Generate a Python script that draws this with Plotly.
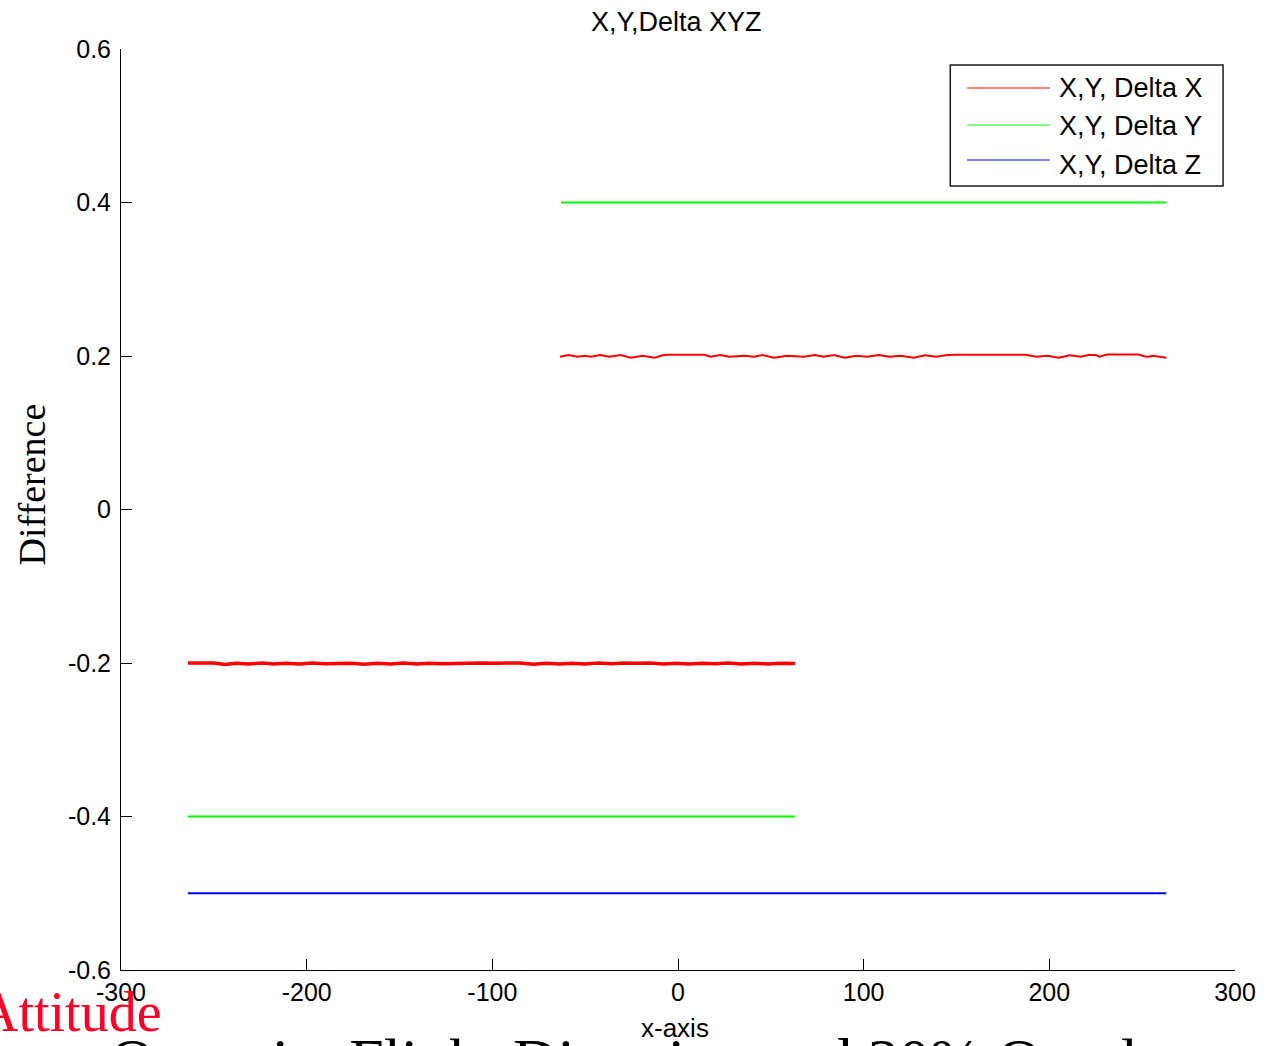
import plotly.graph_objects as go

# ---- data -------------------------------------------------------------
# Delta X, strip flown eastward (upper) and westward (lower)
dx_upper_x = [-63.5, -59, -54, -50, -47, -42, -37, -31, -25.5, -19, -12.6, -8.3, -5.6,
              14.2, 17.4, 22.8, 27.6, 35.7, 41, 45.3, 51.7, 58.7, 67.8, 73.7, 78.6, 83.9,
              89.8, 96, 102, 108, 114, 120, 127, 133, 139, 145, 150, 187, 193, 199, 205,
              211, 217, 221, 225, 227, 231, 248, 251, 253, 256, 259, 261, 263]
dx_upper_y = [0.1991, 0.2013, 0.1991, 0.2004, 0.1991, 0.2013, 0.1991, 0.2013, 0.1978,
              0.2004, 0.1978, 0.2009, 0.2017, 0.2017, 0.1991, 0.2013, 0.1991, 0.2004,
              0.1991, 0.2013, 0.1978, 0.2004, 0.1991, 0.2013, 0.1991, 0.2013, 0.1978,
              0.2004, 0.1991, 0.2013, 0.1991, 0.2004, 0.1978, 0.2009, 0.1991, 0.2013,
              0.2017, 0.2017, 0.1991, 0.2004, 0.1978, 0.2009, 0.1991, 0.2013, 0.2013,
              0.1991, 0.2020, 0.2020, 0.1998, 0.1991, 0.2004, 0.1991, 0.1991, 0.1978]

dx_lower_x = [-264, -258, -250, -244, -238, -231, -224, -218, -211, -204, -197, -190,
              -183, -176, -169, -162, -155, -148, -141, -134, -127, -120, -113, -106,
              -99, -92, -85, -78, -71, -64, -57, -50, -43, -36, -29, -22, -15, -8, -1,
              6, 13, 20, 27, 34, 41, 48, 55, 63]
dx_lower_y = [-0.2000, -0.2002, -0.2000, -0.2018, -0.2003, -0.2012, -0.2001, -0.2014,
              -0.2002, -0.2013, -0.2000, -0.2011, -0.2002, -0.2004, -0.2015, -0.2003,
              -0.2012, -0.2001, -0.2013, -0.2003, -0.2010, -0.2003, -0.2001, -0.2000,
              -0.2002, -0.2004, -0.2001, -0.2016, -0.2004, -0.2012, -0.2002, -0.2013,
              -0.2001, -0.2010, -0.2000, -0.2003, -0.2001, -0.2012, -0.2002, -0.2014,
              -0.2003, -0.2011, -0.2001, -0.2013, -0.2002, -0.2012, -0.2004, -0.2008]

# Delta Y, both strips
dy_upper_x = [-63, 263]
dy_upper_y = [0.4, 0.4]
dy_lower_x = [-264, 63]
dy_lower_y = [-0.4, -0.4]

# Delta Z, across the full extent
dz_x = [-264, 263]
dz_y = [-0.5, -0.5]

legend_labels = ["X,Y, Delta X", "X,Y, Delta Y", "X,Y, Delta Z"]
line_colors = ["#ff0000", "#00ff00", "#0000ff"]

x_ticks = [-300, -200, -100, 0, 100, 200, 300]
x_tick_text = ["-300", "-200", "-100", "0", "100", "200", "300"]
y_ticks = [-0.6, -0.4, -0.2, 0, 0.2, 0.4, 0.6]
y_tick_text = ["-0.6", "-0.4", "-0.2", "0", "0.2", "0.4", "0.6"]

# ---- layout helpers ---------------------------------------------------
W, H = 1268, 1046
L, R, T, B = 121, 1240, 49, 970   # plot-area edges in page pixels


def px(x):
    return (x - L) / (R - L)


def py(y):
    return (B - y) / (B - T)


SANS = "Liberation Sans, Arial, sans-serif"
SERIF = "Liberation Serif, Times New Roman, serif"

fig = go.Figure()

fig.add_trace(go.Scatter(x=dx_upper_x, y=dx_upper_y, mode="lines",
                         line=dict(color=line_colors[0], width=2), showlegend=False))
fig.add_trace(go.Scatter(x=dx_lower_x, y=dx_lower_y, mode="lines",
                         line=dict(color=line_colors[0], width=3.5), showlegend=False))
fig.add_trace(go.Scatter(x=dy_upper_x, y=dy_upper_y, mode="lines",
                         line=dict(color=line_colors[1], width=2), showlegend=False))
fig.add_trace(go.Scatter(x=dy_lower_x, y=dy_lower_y, mode="lines",
                         line=dict(color=line_colors[1], width=2), showlegend=False))
fig.add_trace(go.Scatter(x=dz_x, y=dz_y, mode="lines",
                         line=dict(color=line_colors[2], width=2), showlegend=False))

# legend box drawn by hand so the sample lines can be long
shapes = [dict(type="rect", xref="paper", yref="paper",
               x0=px(954), x1=px(1228), y0=py(186), y1=py(65),
               line=dict(color="#1a1a1a", width=1.5), fillcolor="white", layer="above")]
annotations = []
legend_line_y = [88, 125, 160]
legend_text_y = [88, 126, 165]
for lab, col, ly, ty in zip(legend_labels, line_colors, legend_line_y, legend_text_y):
    shapes.append(dict(type="line", xref="paper", yref="paper",
                       x0=px(971), x1=px(1054), y0=py(ly), y1=py(ly),
                       line=dict(color=col, width=1), layer="above"))
    annotations.append(dict(text=lab, xref="paper", yref="paper", x=px(1061), y=py(ty),
                            xanchor="left", yanchor="middle", showarrow=False,
                            font=dict(family=SANS, size=27, color="black")))

# titles
annotations += [
    dict(text="X,Y,Delta XYZ", xref="paper", yref="paper", x=px(679), y=py(22),
         xanchor="center", yanchor="middle", showarrow=False,
         font=dict(family=SANS, size=27, color="black")),
    dict(text="x-axis", xref="paper", yref="paper", x=px(677), y=py(1028),
         xanchor="center", yanchor="middle", showarrow=False,
         font=dict(family=SANS, size=26, color="black")),
    dict(text="Difference", xref="paper", yref="paper", x=px(32), y=py(484),
         xanchor="center", yanchor="middle", textangle=-90, showarrow=False,
         font=dict(family=SERIF, size=38, color="black")),
    dict(text="Attitude", xref="paper", yref="paper", x=px(-25), y=py(1012),
         xanchor="left", yanchor="middle", showarrow=False,
         font=dict(family=SERIF, size=56, color="#ff0028")),
    dict(text="Opposite Flight Direction and 30% Overlap", xref="paper", yref="paper",
         x=px(108), y=py(1060), xanchor="left", yanchor="middle", showarrow=False,
         font=dict(family=SERIF, size=62, color="black")),
]

fig.update_layout(
    width=W, height=H,
    margin=dict(l=L, r=W - R, t=T, b=H - B, pad=0),
    paper_bgcolor="white", plot_bgcolor="white",
    showlegend=False,
    shapes=shapes,
    annotations=annotations,
    font=dict(family=SANS, size=25, color="black"),
)

fig.update_xaxes(range=[-300, 300], tickvals=x_ticks, ticktext=x_tick_text,
                 ticks="inside", ticklen=11, tickcolor="black", tickwidth=1,
                 showline=True, linecolor="black", linewidth=1, showgrid=False,
                 zeroline=False, tickfont=dict(family=SANS, size=25, color="black"))
fig.update_yaxes(range=[-0.6, 0.6], tickvals=y_ticks, ticktext=y_tick_text,
                 ticks="inside", ticklen=11, tickcolor="black", tickwidth=1,
                 showline=True, linecolor="black", linewidth=1, showgrid=False,
                 zeroline=False, ticklabelstandoff=4,
                 tickfont=dict(family=SANS, size=25, color="black"))

fig.write_html("out.html")
